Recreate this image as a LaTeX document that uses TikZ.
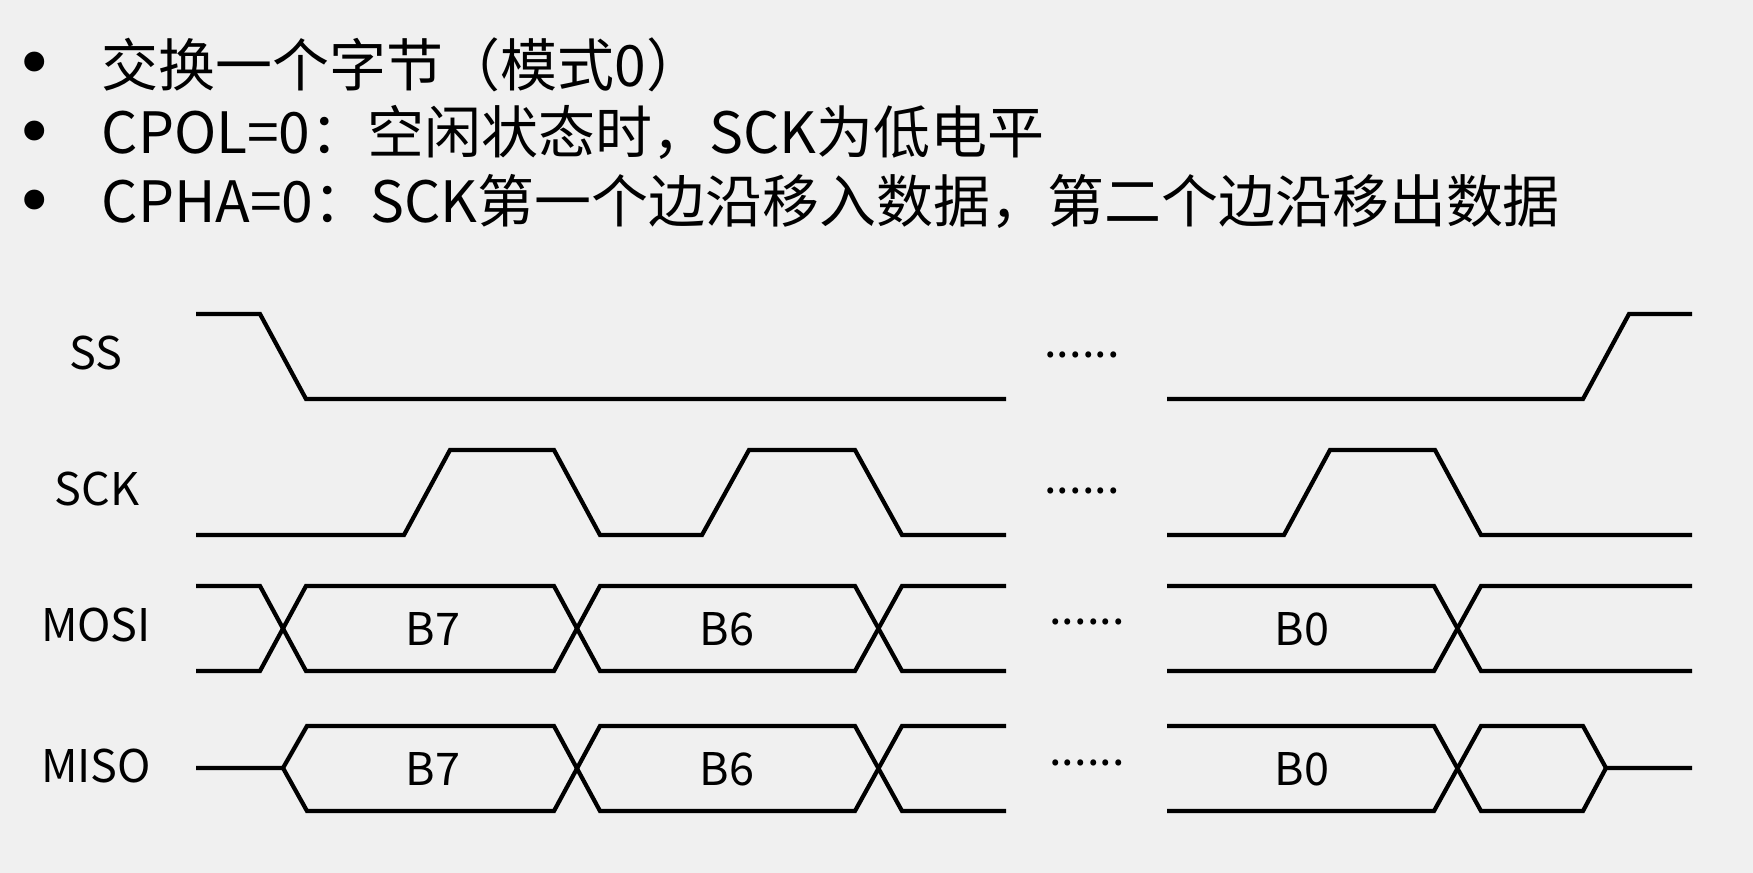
\documentclass[tikz,border=0pt]{standalone}
\usepackage{fontspec}
\setmainfont{Noto Sans CJK SC}
\newfontfamily\bulletfont{DejaVu Sans}
\definecolor{bgcol}{RGB}{240,240,240}
\begin{document}
\begin{tikzpicture}[x=0.01cm, y=-0.01cm, line join=miter,
    sig/.style={line width=1.2pt},
    lbl/.style={font=\fontsize{12.8pt}{15pt}\selectfont, inner sep=0pt},
    dots/.style={lbl, anchor=base},
    blt/.style={font=\bulletfont\fontsize{19.5pt}{22pt}\selectfont, inner sep=0pt, anchor=base},
    ttl/.style={font=\fontsize{16.2pt}{19pt}\selectfont, inner sep=0pt, anchor=base west}]
    % 背景 (固定版面尺寸)
    \useasboundingbox (0,0) rectangle (1753,873);
    \fill[bgcol] (0,0) rectangle (1753,873);

    % 标题要点
    \node[blt] (dot1) at (35,88) {•};
    \node[blt] (dot2) at (35,157) {•};
    \node[blt] (dot3) at (35,226) {•};
    \node[ttl] (line1) at (101,87) {交换一个字节（模式0）};
    \node[ttl] (line2) at (101,154) {CPOL=0：空闲状态时，SCK为低电平};
    \node[ttl] (line3) at (101,223) {CPHA=0：SCK第一个边沿移入数据，第二个边沿移出数据};

    % 信号名称
    \node[lbl] (ss) at (96,353) {SS};
    \node[lbl] (sck) at (97,489) {SCK};
    \node[lbl] (mosi) at (96,625) {MOSI};
    \node[lbl] (miso) at (96,766) {MISO};

    % SS
    \draw[sig] (196,314) -- (260,314) -- (306,399) -- (1006,399);
    \draw[sig] (1167,399) -- (1583,399) -- (1629,314) -- (1692,314);
    \node[dots] (ssdots) at (1082,358) {......};

    % SCK (空闲为低电平)
    \draw[sig] (196,535) -- (404,535) -- (450,450) -- (554,450) -- (600,535) -- (702,535)
        -- (749,450) -- (855,450) -- (902,535) -- (1006,535);
    \draw[sig] (1167,535) -- (1284,535) -- (1330,450) -- (1435,450) -- (1481,535) -- (1692,535);
    \node[dots] (sckdots) at (1082,494) {......};

    % MOSI
    \draw[sig] (196,586) -- (260,586) -- (306,671) -- (554,671) -- (600,586) -- (855,586) -- (902,671) -- (1006,671);
    \draw[sig] (196,671) -- (260,671) -- (306,586) -- (554,586) -- (600,671) -- (855,671) -- (902,586) -- (1006,586);
    \draw[sig] (1167,586) -- (1434,586) -- (1481,671) -- (1692,671);
    \draw[sig] (1167,671) -- (1434,671) -- (1481,586) -- (1692,586);
    \node[lbl] (mosib7) at (433,629) {B7};
    \node[lbl] (mosib6) at (727,629) {B6};
    \node[lbl] (mosib0) at (1302,629) {B0};
    \node[dots] (mosidots) at (1087,625) {......};

    % MISO (起始与结束为高阻态)
    \draw[sig] (196,768) -- (283,768) -- (307,726) -- (554,726) -- (600,811) -- (855,811) -- (902,726) -- (1006,726);
    \draw[sig] (283,768) -- (307,811) -- (554,811) -- (600,726) -- (855,726) -- (902,811) -- (1006,811);
    \draw[sig] (1167,726) -- (1434,726) -- (1481,811) -- (1583,811) -- (1606,768) -- (1692,768);
    \draw[sig] (1167,811) -- (1434,811) -- (1481,726) -- (1583,726) -- (1606,768);
    \node[lbl] (misob7) at (433,769) {B7};
    \node[lbl] (misob6) at (727,769) {B6};
    \node[lbl] (misob0) at (1302,769) {B0};
    \node[dots] (misodots) at (1087,766) {......};
\end{tikzpicture}
\end{document}
